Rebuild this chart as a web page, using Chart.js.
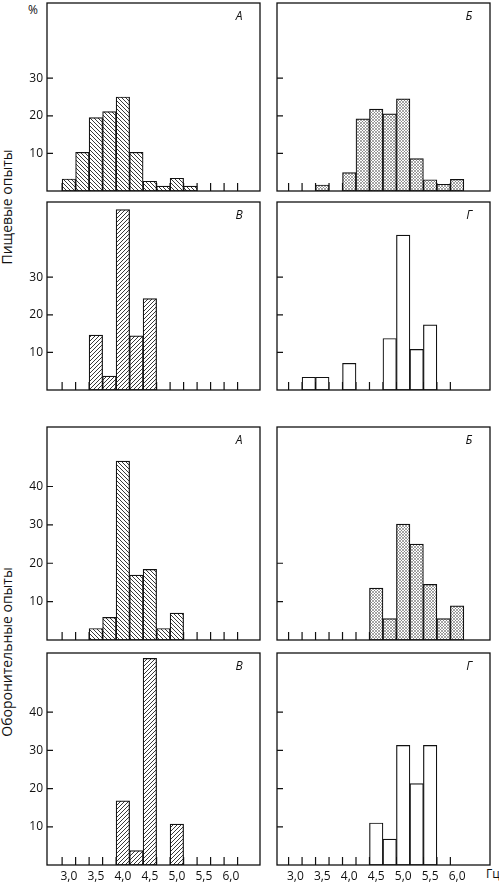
<!DOCTYPE html>
<html>
<head>
<meta charset="utf-8">
<script src="https://cdn.jsdelivr.net/npm/chart.js@4.4.1/dist/chart.umd.min.js"></script>
<style>
  html, body { margin: 0; padding: 0; background: #fff; }
  body { width: 499px; height: 885px; position: relative; overflow: hidden; font-family: 'Open Sans', sans-serif; color: #111; }
  .panel { position: absolute; }
  .txt { position: absolute; white-space: nowrap; font-size: 12px; line-height: 1; }
  .vert { position: absolute; white-space: nowrap; font-size: 14px; line-height: 1; transform: translate(-50%, -50%) rotate(-90deg); }
</style>
</head>
<body>
<div class="txt" style="left:28px; top:4px;">%</div>
<div class="vert" style="left:7px; top:207px;">Пищевые опыты</div>
<div class="vert" style="left:7px; top:652px;">Оборонительные опыты</div>
<div class="txt" style="left:486px; top:868px;">Гц</div>

<script>
// bin centres, Hz (bins are 0.25 Hz wide)
const binCenters = [3.0, 3.25, 3.5, 3.75, 4.0, 4.25, 4.5, 4.75, 5.0, 5.25, 5.5, 5.75, 6.0];
const xTickLabels = [3.0, 3.5, 4.0, 4.5, 5.0, 5.5, 6.0];

// food experiments, % of cases
const foodA = [3.2, 10.3, 19.5, 21.1, 25, 10.3, 2.6, 1.3, 3.4, 1.3, null, null, null];
const foodB = [null, null, 1.6, null, 4.9, 19.2, 21.8, 20.5, 24.5, 8.6, 3.0, 1.8, 3.1];
const foodV = [null, null, 14.6, 3.7, 48, 14.4, 24.3, null, null, null, null, null, null];
const foodG = [null, 3.4, 3.4, null, 7.1, null, null, 13.7, 41.2, 10.8, 17.3, null, null];

// defensive experiments, % of cases
const defA = [null, null, 3.0, 5.9, 46.6, 16.9, 18.4, 3.0, 7.0, null, null, null, null];
const defB = [null, null, null, null, null, null, 13.5, 5.6, 30.2, 25, 14.5, 5.6, 8.9];
const defV = [null, null, null, null, 16.8, 3.75, 54.1, null, 10.7, null, null, null, null];
const defG = [null, null, null, null, null, null, 11.0, 6.8, 31.3, 21.3, 31.3, null, null];

const yTicksShort = [10, 20, 30];
const yTicksLong = [10, 20, 30, 40];
const yTicksB2 = [10, 20];

Chart.defaults.font.family = "'Open Sans', sans-serif";
Chart.defaults.font.size = 12;
Chart.defaults.color = '#111';
Chart.defaults.animation = false;

// hatch fills
function makePattern(kind) {
  const s = kind === 'cross' ? 3 : 4;
  const c = document.createElement('canvas');
  c.width = s; c.height = s;
  const g = c.getContext('2d');
  g.fillStyle = '#fff';
  g.fillRect(0, 0, s, s);
  g.strokeStyle = kind === 'cross' ? '#6a6a6a' : '#222';
  g.lineWidth = kind === 'cross' ? 0.6 : 0.9;
  g.beginPath();
  for (const k of [-1, 0, 1]) {
    if (kind === 'back' || kind === 'cross') {
      g.moveTo(-1, -1 + k * s); g.lineTo(s + 1, s + 1 + k * s);
    }
    if (kind === 'slash' || kind === 'cross') {
      g.moveTo(-1, s + 1 + k * s); g.lineTo(s + 1, -1 + k * s);
    }
  }
  g.stroke();
  return g.createPattern(c, 'repeat');
}

const fills = {
  back: makePattern('back'),
  slash: makePattern('slash'),
  cross: makePattern('cross'),
  white: '#fff'
};

// frame, inward ticks and panel letter
const framePlugin = {
  id: 'frame',
  beforeDatasetsDraw(chart, args, opts) {
    const { ctx, chartArea: a, scales: { x, y } } = chart;
    ctx.save();
    ctx.strokeStyle = '#111';
    ctx.lineWidth = 1.2;
    ctx.beginPath();
    opts.edges.forEach(e => {
      const px = x.getPixelForValue(e);
      ctx.moveTo(px, a.bottom);
      ctx.lineTo(px, a.bottom - 8);
    });
    opts.yTicks.forEach(v => {
      const py = y.getPixelForValue(v);
      ctx.moveTo(a.left, py);
      ctx.lineTo(a.left + 6, py);
    });
    ctx.stroke();
    ctx.restore();
  },
  afterDraw(chart, args, opts) {
    const { ctx, chartArea: a } = chart;
    ctx.save();
    ctx.strokeStyle = '#111';
    ctx.lineWidth = 1.3;
    ctx.strokeRect(a.left, a.top, a.right - a.left, a.bottom - a.top);
    ctx.fillStyle = '#111';
    ctx.font = "italic 12px 'Open Sans', sans-serif";
    ctx.textAlign = 'center';
    ctx.textBaseline = 'middle';
    ctx.fillText(opts.letter, a.right - 21, a.top + 14);
    ctx.restore();
  }
};

const panels = [
  { values: foodA, col: 0, frameTop: 3,   frameBottom: 191, fill: 'back',  letter: 'А', yMax: 50,   yTicks: yTicksShort, labels: false },
  { values: foodB, col: 1, frameTop: 3,   frameBottom: 191, fill: 'cross', letter: 'Б', yMax: 50,   yTicks: yTicksShort, labels: false },
  { values: foodV, col: 0, frameTop: 202, frameBottom: 390, fill: 'slash', letter: 'В', yMax: 50,   yTicks: yTicksShort, labels: false },
  { values: foodG, col: 1, frameTop: 202, frameBottom: 390, fill: 'white', letter: 'Г', yMax: 50,   yTicks: yTicksShort, labels: false },
  { values: defA,  col: 0, frameTop: 427, frameBottom: 640, fill: 'back',  letter: 'А', yMax: 55.5, yTicks: yTicksLong,  labels: false },
  { values: defB,  col: 1, frameTop: 427, frameBottom: 640, fill: 'cross', letter: 'Б', yMax: 55.5, yTicks: yTicksB2,    labels: false },
  { values: defV,  col: 0, frameTop: 653, frameBottom: 865, fill: 'slash', letter: 'В', yMax: 55.5, yTicks: yTicksLong,  labels: true },
  { values: defG,  col: 1, frameTop: 653, frameBottom: 865, fill: 'white', letter: 'Г', yMax: 55.5, yTicks: yTicksLong,  labels: true }
];

// column geometry: canvas box and x range that puts the bins where they sit
const columns = [
  { left: 0,   width: 262, yAxisWidth: 47, padRight: 2, xMin: 2.595, xMax: 6.54, edgeCount: 14 },
  { left: 262, width: 237, yAxisWidth: 15, padRight: 9, xMin: 2.66,  xMax: 6.61, edgeCount: 13 }
];

panels.forEach((p, i) => {
  const col = columns[p.col];
  const xh = p.labels ? 885 - p.frameBottom : 2;
  const top = p.frameTop - 3;
  const box = document.createElement('div');
  box.className = 'panel';
  box.style.left = col.left + 'px';
  box.style.top = top + 'px';
  box.style.width = col.width + 'px';
  box.style.height = (p.frameBottom - top + xh) + 'px';
  const cv = document.createElement('canvas');
  box.appendChild(cv);
  document.body.appendChild(box);

  const edges = [];
  for (let k = 0; k < col.edgeCount; k++) edges.push(binCenters[0] - 0.125 + k * 0.25);

  new Chart(cv.getContext('2d'), {
    type: 'bar',
    data: {
      datasets: [{
        data: binCenters.map((c, j) => ({ x: c, y: p.values[j] })),
        backgroundColor: fills[p.fill],
        borderColor: '#111',
        borderWidth: 1.2,
        borderSkipped: false,
        barPercentage: 1,
        categoryPercentage: 1
      }]
    },
    options: {
      responsive: true,
      maintainAspectRatio: false,
      layout: { padding: { top: 3, right: col.padRight, left: 0, bottom: 0 } },
      plugins: {
        legend: { display: false },
        tooltip: { enabled: false },
        frame: { edges: edges, yTicks: p.yTicks, letter: p.letter }
      },
      scales: {
        x: {
          type: 'linear',
          offset: false,
          min: col.xMin,
          max: col.xMax,
          grid: { display: false, drawTicks: false },
          border: { display: false },
          afterBuildTicks: scale => { scale.ticks = xTickLabels.map(v => ({ value: v })); },
          afterFit: scale => {
            scale.height = xh;
            scale.paddingLeft = 0;
            scale.paddingRight = 0;
          },
          ticks: {
            display: p.labels,
            autoSkip: false,
            maxRotation: 0,
            padding: 4,
            callback: v => v.toFixed(1).replace('.', ',')
          }
        },
        y: {
          min: 0,
          max: p.yMax,
          grid: { display: false, drawTicks: false },
          border: { display: false },
          afterBuildTicks: scale => { scale.ticks = p.yTicks.map(v => ({ value: v })); },
          afterFit: scale => {
            scale.width = col.yAxisWidth;
            scale.paddingTop = 0;
            scale.paddingBottom = 0;
          },
          ticks: { display: p.col === 0, padding: 4 }
        }
      }
    },
    plugins: [framePlugin]
  });
});
</script>
</body>
</html>
